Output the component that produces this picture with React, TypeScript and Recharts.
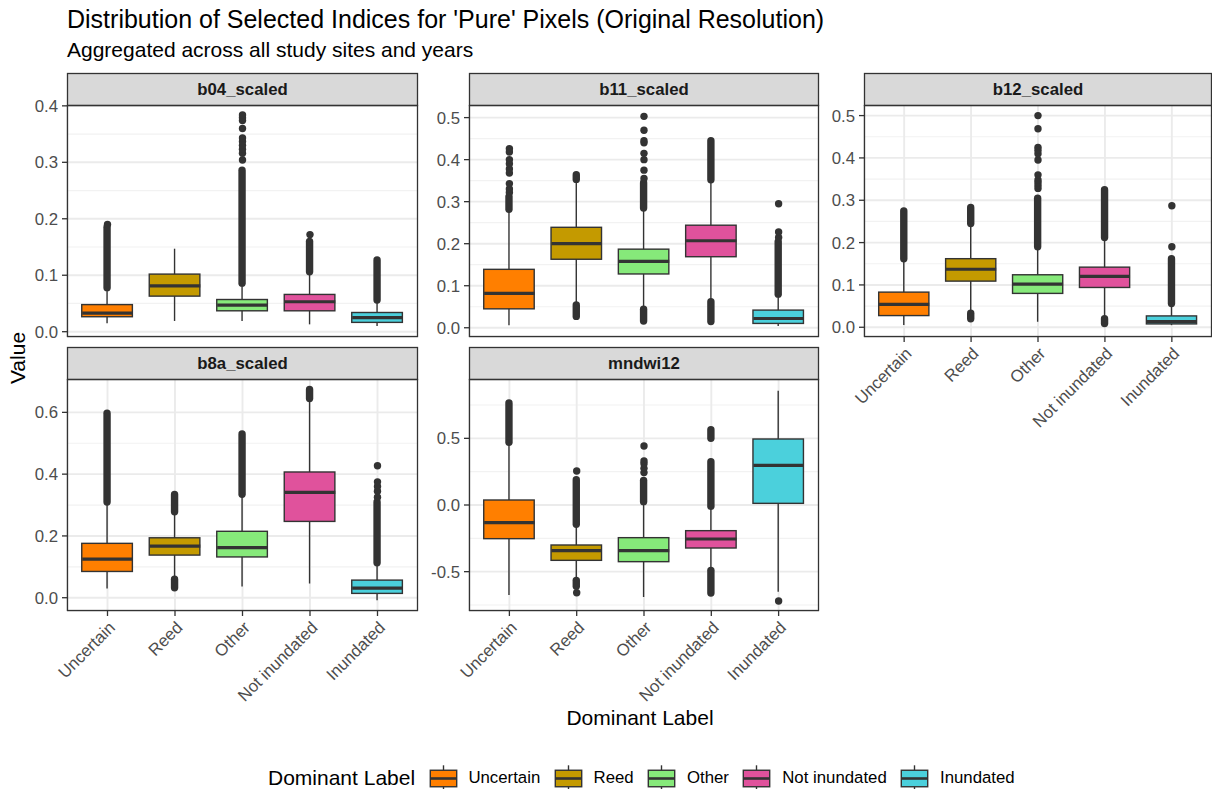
import React from 'react';
import { ComposedChart, Bar, Scatter, XAxis, YAxis, CartesianGrid, Cell } from 'recharts';

const FONT = '"Liberation Sans", Arial, Helvetica, sans-serif';

// ---------- categories / colours ----------
const CATEGORIES = ['Uncertain', 'Reed', 'Other', 'Not inundated', 'Inundated'];
const FILLS = ['#FF7F00', '#C49A00', '#86E97A', '#E0529C', '#4BD0DC'];

type Run = [number, number];

// ---------- b04_scaled ----------
const b04Lo = [0.015, 0.019, 0.019, 0.013, 0.010];
const b04Q1 = [0.0265, 0.063, 0.037, 0.037, 0.0165];
const b04Med = [0.033, 0.081, 0.047, 0.053, 0.025];
const b04Q3 = [0.048, 0.102, 0.057, 0.066, 0.034];
const b04Hi = [0.075, 0.147, 0.083, 0.103, 0.052];
const b04Runs: Run[][] = [[[0.078, 0.185]], [], [[0.086, 0.286]], [[0.106, 0.16]], [[0.056, 0.127]]];
const b04Outliers = [[0.19], [], [0.304, 0.316, 0.323, 0.33, 0.337, 0.343, 0.36, 0.374, 0.379, 0.384], [0.172], []];
const b04Ticks = [0, 0.1, 0.2, 0.3, 0.4];
const b04Minor = [0.05, 0.15, 0.25, 0.35];

// ---------- b11_scaled ----------
const b11Lo = [0.006, 0.058, 0.046, 0.066, 0.004];
const b11Q1 = [0.045, 0.163, 0.128, 0.169, 0.0103];
const b11Med = [0.082, 0.2, 0.158, 0.207, 0.022];
const b11Q3 = [0.139, 0.239, 0.187, 0.244, 0.042];
const b11Hi = [0.278, 0.35, 0.28, 0.348, 0.077];
const b11Runs: Run[][] = [
  [[0.282, 0.312]],
  [[0.353, 0.364], [0.027, 0.054]],
  [[0.285, 0.345], [0.016, 0.044]],
  [[0.352, 0.445], [0.015, 0.062]],
  [[0.08, 0.205]],
];
const b11Outliers = [
  [0.322, 0.33, 0.343, 0.368, 0.378, 0.39, 0.4, 0.418, 0.426],
  [],
  [0.355, 0.375, 0.4, 0.415, 0.44, 0.445, 0.47, 0.503],
  [],
  [0.215, 0.228, 0.295],
];
const b11Ticks = [0, 0.1, 0.2, 0.3, 0.4, 0.5];
const b11Minor = [0.05, 0.15, 0.25, 0.35, 0.45];

// ---------- b12_scaled ----------
const b12Lo = [0.0055, 0.041, 0.013, 0.025, 0.005];
const b12Q1 = [0.0276, 0.109, 0.08, 0.094, 0.0079];
const b12Med = [0.054, 0.137, 0.102, 0.12, 0.0134];
const b12Q3 = [0.083, 0.162, 0.124, 0.142, 0.0268];
const b12Hi = [0.159, 0.239, 0.187, 0.21, 0.053];
const b12Runs: Run[][] = [
  [[0.162, 0.275]],
  [[0.245, 0.283], [0.02, 0.033]],
  [[0.19, 0.305]],
  [[0.212, 0.325], [0.009, 0.02]],
  [[0.056, 0.162]],
];
const b12Outliers = [
  [],
  [],
  [0.328, 0.335, 0.342, 0.348, 0.36, 0.395, 0.41, 0.418, 0.425, 0.469, 0.5],
  [],
  [0.19, 0.287],
];
const b12Ticks = [0, 0.1, 0.2, 0.3, 0.4, 0.5];
const b12Minor = [0.05, 0.15, 0.25, 0.35, 0.45];

// ---------- b8a_scaled ----------
const b8aLo = [0.03, 0.063, 0.036, 0.046, -0.008];
const b8aQ1 = [0.085, 0.138, 0.132, 0.247, 0.014];
const b8aMed = [0.125, 0.167, 0.162, 0.341, 0.031];
const b8aQ3 = [0.176, 0.194, 0.215, 0.407, 0.057];
const b8aHi = [0.305, 0.273, 0.332, 0.64, 0.111];
const b8aRuns: Run[][] = [
  [[0.31, 0.597]],
  [[0.278, 0.334], [0.032, 0.06]],
  [[0.335, 0.53]],
  [[0.645, 0.674]],
  [[0.113, 0.31]],
];
const b8aOutliers = [[], [], [], [], [0.325, 0.345, 0.36, 0.375, 0.427]];
const b8aTicks = [0, 0.2, 0.4, 0.6];
const b8aMinor = [0.1, 0.3, 0.5];

// ---------- mndwi12 ----------
const mndwiLo = [-0.675, -0.55, -0.69, -0.4875, -0.65];
const mndwiQ1 = [-0.2525, -0.415, -0.425, -0.3225, 0.0125];
const mndwiMed = [-0.1325, -0.3425, -0.3425, -0.255, 0.2975];
const mndwiQ3 = [0.0375, -0.3, -0.245, -0.1925, 0.495];
const mndwiHi = [0.4625, -0.15, 0.0175, -0.025, 0.8575];
const mndwiRuns: Run[][] = [
  [[0.47, 0.765]],
  [[-0.145, 0.19], [-0.61, -0.565]],
  [[0.025, 0.185]],
  [[-0.01, 0.325], [0.5, 0.565], [-0.66, -0.49]],
  [],
];
const mndwiOutliers = [[], [0.255, -0.658], [0.243, 0.275, 0.31, 0.33, 0.443], [], [-0.72]];
const mndwiTicks = [-0.5, 0, 0.5];
const mndwiMinor = [-0.75, -0.25, 0.25, 0.75];

// ---------- panel table ----------
interface PanelSpec {
  name: string;
  lo: number[]; q1: number[]; med: number[]; q3: number[]; hi: number[];
  runs: Run[][]; outliers: number[][];
  domain: [number, number]; ticks: number[]; minor: number[];
  col: number; row: number; showX: boolean;
}

const PANELS: PanelSpec[] = [
  { name: 'b04_scaled', lo: b04Lo, q1: b04Q1, med: b04Med, q3: b04Q3, hi: b04Hi, runs: b04Runs, outliers: b04Outliers, domain: [-0.0094, 0.4015], ticks: b04Ticks, minor: b04Minor, col: 0, row: 0, showX: false },
  { name: 'b11_scaled', lo: b11Lo, q1: b11Q1, med: b11Med, q3: b11Q3, hi: b11Hi, runs: b11Runs, outliers: b11Outliers, domain: [-0.022, 0.53], ticks: b11Ticks, minor: b11Minor, col: 1, row: 0, showX: false },
  { name: 'b12_scaled', lo: b12Lo, q1: b12Q1, med: b12Med, q3: b12Q3, hi: b12Hi, runs: b12Runs, outliers: b12Outliers, domain: [-0.023, 0.525], ticks: b12Ticks, minor: b12Minor, col: 2, row: 0, showX: true },
  { name: 'b8a_scaled', lo: b8aLo, q1: b8aQ1, med: b8aMed, q3: b8aQ3, hi: b8aHi, runs: b8aRuns, outliers: b8aOutliers, domain: [-0.043, 0.708], ticks: b8aTicks, minor: b8aMinor, col: 0, row: 1, showX: true },
  { name: 'mndwi12', lo: mndwiLo, q1: mndwiQ1, med: mndwiMed, q3: mndwiQ3, hi: mndwiHi, runs: mndwiRuns, outliers: mndwiOutliers, domain: [-0.795, 0.945], ticks: mndwiTicks, minor: mndwiMinor, col: 1, row: 1, showX: true },
];

// ---------- layout ----------
const COL_LEFT = [67, 469, 864];
const COL_RIGHT = [418, 819, 1212];
const ROW_STRIP_TOP = [73, 347];
const ROW_PLOT_TOP = [105, 379];
const ROW_PLOT_BOTTOM = [337, 611];
const Y_AXIS_W = 60;
const TOP_PAD = 14;
const DARK = '#333333';
const TICK_COL = '#4D4D4D';

const WhiskerShape = (props: any) => {
  const { x, y, width, height } = props;
  if (x == null || y == null) return <g />;
  const top = Math.min(y, y + height);
  const bot = Math.max(y, y + height);
  const cx = x + width / 2;
  return <line x1={cx} x2={cx} y1={top} y2={bot} stroke={DARK} strokeWidth={1.4} />;
};

const BoxShape = (props: any) => {
  const { x, y, width, height, fill } = props;
  if (x == null || y == null) return <g />;
  const top = Math.min(y, y + height);
  const h = Math.abs(height);
  return <rect x={x} y={top} width={width} height={h} fill={fill} stroke={DARK} strokeWidth={1.4} />;
};

const RunShape = (props: any) => {
  const { x, y, width, height } = props;
  if (x == null || y == null) return <g />;
  const top = Math.min(y, y + height);
  const bot = Math.max(y, y + height);
  const cx = x + width / 2;
  return <line x1={cx} x2={cx} y1={top} y2={bot} stroke={DARK} strokeWidth={7.4} strokeLinecap="round" />;
};

const PointShape = (props: any) => {
  const { cx, cy } = props;
  if (cx == null || cy == null) return <g />;
  return <circle cx={cx} cy={cy} r={3.7} fill={DARK} />;
};

const makeMedianShape = (w: number) => (props: any) => {
  const { cx, cy } = props;
  if (cx == null || cy == null) return <g />;
  return <line x1={cx - w / 2} x2={cx + w / 2} y1={cy} y2={cy} stroke={DARK} strokeWidth={3.2} />;
};

const RotTick = (props: any) => {
  const { x, y, payload } = props;
  const label = CATEGORIES[payload.value] ?? '';
  return (
    <text
      x={x}
      y={y}
      transform={`rotate(-45 ${x} ${y})`}
      textAnchor="end"
      dy="0.72em"
      fill={TICK_COL}
      fontSize={16.8}
      fontFamily={FONT}
    >
      {label}
    </text>
  );
};

const X_COMMON = {
  type: 'number' as const,
  dataKey: 'x',
  domain: [-0.6, 4.6] as [number, number],
  ticks: [0, 1, 2, 3, 4],
  allowDataOverflow: true,
};

function Panel({ spec }: { spec: PanelSpec }) {
  const left = COL_LEFT[spec.col];
  const plotW = COL_RIGHT[spec.col] - left;
  const plotTop = ROW_PLOT_TOP[spec.row];
  const plotH = ROW_PLOT_BOTTOM[spec.row] - plotTop;
  const xH = spec.showX ? 130 : 14;
  const W = Y_AXIS_W + plotW;
  const H = TOP_PAD + plotH + xH;
  const boxW = (plotW * 0.75) / 5.2;

  const rows = CATEGORIES.map((c, i) => ({
    x: i,
    cat: c,
    whisker: [spec.lo[i], spec.hi[i]],
    box: [spec.q1[i], spec.q3[i]],
    run0: spec.runs[i][0] ?? null,
    run1: spec.runs[i][1] ?? null,
    run2: spec.runs[i][2] ?? null,
  }));
  const medians = CATEGORIES.map((c, i) => ({ x: i, v: spec.med[i] }));
  const points = spec.outliers.flatMap((vals, i) => vals.map((v) => ({ x: i, v })));
  const MedianShape = makeMedianShape(boxW);

  return (
    <div style={{ position: 'absolute', left: left - Y_AXIS_W, top: plotTop - TOP_PAD, width: W, height: H }}>
      <ComposedChart width={W} height={H} data={rows} margin={{ top: TOP_PAD, right: 0, bottom: 0, left: 0 }}>
        <XAxis
          xAxisId="m"
          {...X_COMMON}
          height={xH}
          axisLine={false}
          tickLine={spec.showX ? { stroke: DARK, strokeWidth: 1.3 } : false}
          tickSize={5}
          tickMargin={4}
          tick={spec.showX ? <RotTick /> : false}
          interval={0}
        />
        <XAxis xAxisId="w" {...X_COMMON} hide height={0} />
        <XAxis xAxisId="b" {...X_COMMON} hide height={0} />
        <XAxis xAxisId="r0" {...X_COMMON} hide height={0} />
        <XAxis xAxisId="r1" {...X_COMMON} hide height={0} />
        <XAxis xAxisId="r2" {...X_COMMON} hide height={0} />
        <YAxis
          yAxisId="main"
          type="number"
          domain={spec.domain}
          ticks={spec.ticks}
          allowDataOverflow
          width={Y_AXIS_W}
          axisLine={false}
          tickLine={{ stroke: DARK, strokeWidth: 1.3 }}
          tickSize={5}
          tickMargin={4}
          interval={0}
          tickFormatter={(v: number) => v.toFixed(1)}
          tick={{ fill: TICK_COL, fontSize: 16.8, fontFamily: FONT }}
        />
        <YAxis yAxisId="minor" type="number" domain={spec.domain} ticks={spec.minor} allowDataOverflow hide width={0} />
        <CartesianGrid xAxisId="m" yAxisId="minor" vertical={false} stroke="#F2F2F2" strokeWidth={1.2} />
        <CartesianGrid xAxisId="m" yAxisId="main" stroke="#EBEBEB" strokeWidth={1.9} />
        <Bar xAxisId="w" yAxisId="main" dataKey="whisker" barSize={boxW} shape={WhiskerShape} isAnimationActive={false} />
        <Bar xAxisId="b" yAxisId="main" dataKey="box" barSize={boxW} shape={BoxShape} isAnimationActive={false}>
          {rows.map((r, i) => (
            <Cell key={r.cat} fill={FILLS[i]} />
          ))}
        </Bar>
        <Scatter xAxisId="m" yAxisId="main" data={medians} dataKey="v" shape={MedianShape} isAnimationActive={false} />
        <Bar xAxisId="r0" yAxisId="main" dataKey="run0" barSize={boxW} shape={RunShape} isAnimationActive={false} />
        <Bar xAxisId="r1" yAxisId="main" dataKey="run1" barSize={boxW} shape={RunShape} isAnimationActive={false} />
        <Bar xAxisId="r2" yAxisId="main" dataKey="run2" barSize={boxW} shape={RunShape} isAnimationActive={false} />
        <Scatter xAxisId="m" yAxisId="main" data={points} dataKey="v" shape={PointShape} isAnimationActive={false} />
      </ComposedChart>
    </div>
  );
}

const LegendKey = ({ fill }: { fill: string }) => (
  <svg width={33} height={33} style={{ display: 'block', flex: '0 0 auto' }}>
    <line x1={16.5} x2={16.5} y1={3.3} y2={8.25} stroke={DARK} strokeWidth={1.4} />
    <line x1={16.5} x2={16.5} y1={24.75} y2={29.7} stroke={DARK} strokeWidth={1.4} />
    <rect x={3.3} y={8.25} width={26.4} height={16.5} fill={fill} stroke={DARK} strokeWidth={1.4} />
    <line x1={3.3} x2={29.7} y1={16.5} y2={16.5} stroke={DARK} strokeWidth={2.6} />
  </svg>
);

export default function App() {
  return (
    <div
      style={{
        position: 'absolute',
        left: 0,
        top: 0,
        width: 1212,
        height: 789,
        background: '#FFFFFF',
        fontFamily: FONT,
        overflow: 'hidden',
      }}
    >
      {PANELS.map((p) => (
        <Panel key={p.name} spec={p} />
      ))}
      <svg width={1212} height={789} style={{ position: 'absolute', left: 0, top: 0, pointerEvents: 'none' }}>
        <text x={67} y={28} fontSize={25} fill="#000" fontFamily={FONT}>
          Distribution of Selected Indices for 'Pure' Pixels (Original Resolution)
        </text>
        <text x={67} y={57} fontSize={21} fill="#000" fontFamily={FONT}>
          Aggregated across all study sites and years
        </text>
        {PANELS.map((p) => {
          const l = COL_LEFT[p.col];
          const r = COL_RIGHT[p.col];
          const st = ROW_STRIP_TOP[p.row];
          const pt = ROW_PLOT_TOP[p.row];
          const pb = ROW_PLOT_BOTTOM[p.row];
          return (
            <g key={p.name}>
              <rect x={l + 0.5} y={st + 0.5} width={r - l - 1} height={pt - st} fill="#D9D9D9" stroke={DARK} strokeWidth={1.3} />
              <text x={(l + r) / 2} y={(st + pt) / 2 + 6} textAnchor="middle" fontSize={16.8} fontWeight="bold" fill="#1A1A1A" fontFamily={FONT}>
                {p.name}
              </text>
              <rect x={l + 0.5} y={pt + 0.5} width={r - l - 1} height={pb - pt - 1} fill="none" stroke={DARK} strokeWidth={1.3} />
            </g>
          );
        })}
        <text x={640} y={725} textAnchor="middle" fontSize={21} fill="#000" fontFamily={FONT}>
          Dominant Label
        </text>
        <text x={25} y={358} transform="rotate(-90 25 358)" textAnchor="middle" fontSize={21} fill="#000" fontFamily={FONT}>
          Value
        </text>
      </svg>
      <div
        style={{
          position: 'absolute',
          left: 268,
          top: 761.5,
          height: 33,
          display: 'flex',
          alignItems: 'center',
          whiteSpace: 'nowrap',
        }}
      >
        <span style={{ fontSize: 21, color: '#000', marginRight: 11.5 }}>Dominant Label</span>
        {CATEGORIES.map((c, i) => (
          <div key={c} style={{ display: 'flex', alignItems: 'center', marginRight: 11.5 }}>
            <LegendKey fill={FILLS[i]} />
            <span style={{ fontSize: 16.8, color: '#000', marginLeft: 8.8 }}>{c}</span>
          </div>
        ))}
      </div>
    </div>
  );
}
